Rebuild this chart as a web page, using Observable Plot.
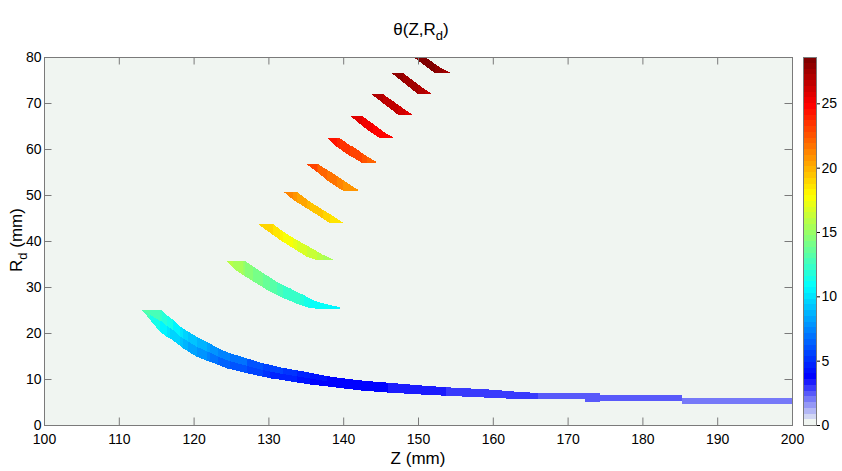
<!DOCTYPE html>
<html><head><meta charset="utf-8">
<script src="https://cdn.jsdelivr.net/npm/d3@7"></script>
<script src="https://cdn.jsdelivr.net/npm/@observablehq/plot@0.6"></script>
<style>
html,body{margin:0;padding:0;background:#fff;}
#wrap{position:relative;width:842px;height:471px;font-family:"Liberation Sans",Arial,sans-serif;color:#000;overflow:hidden;}
#main,#cbar{position:absolute;top:0;}
#main{left:0;}
#cbar{left:803px;}
.lbl{position:absolute;font-size:17px;white-space:nowrap;line-height:1;}
.lbl sub{font-size:13px;vertical-align:-5px;line-height:0;}
#title{left:421px;top:21px;transform:translateX(-50%);}
#xlab{left:418px;top:450px;transform:translateX(-50%);}
#ylab{left:16px;top:240px;transform:translate(-50%,-50%) rotate(-90deg);}
</style></head><body>
<div id="wrap">
<div id="main"></div><div id="cbar"></div>
<div class="lbl" id="title">θ(Z,R<sub>d</sub>)</div>
<div class="lbl" id="xlab">Z (mm)</div>
<div class="lbl" id="ylab">R<sub>d</sub> (mm)</div>
</div>
<script>
// ---- tick labels ----
const xTicks = [100,110,120,130,140,150,160,170,180,190,200];
const yTicks = [0,10,20,30,40,50,60,70,80];
const cTicks = [0,5,10,15,20,25];
const thetaMax = 28.6;

// ---- lower (long) band: samples along Z with Rd low/high edges;
//      theta of each segment (upper half / lower half of the band) ----
const lowZ  = [113.1,114.2,115.5,115.75,116.4,116.85,117.3,118.2,118.6,119.3,120.4,121.75,122.2,123.3,124.4,124.9,127.1,129.3,130.2,132.0,133.8,135.6,137.8,140.0,142.7,146.0,149.6,153.8,159.2,163.2,166.1,172.3,172.3,174.3,174.3,185.3,185.3,200];
const lowLo = [25.0,22.83,20.28,20.0,19.2,18.85,18.3,17.2,16.67,15.95,14.85,14.0,13.76,13.05,12.33,12.13,11.24,10.5,10.15,9.75,9.25,8.8,8.4,7.95,7.45,7.05,6.7,6.35,5.95,5.65,5.6,5.6,5.1,5.1,5.15,5.15,4.55,4.55];
const lowHi = [25.0,25.0,25.0,25.0,23.91,23.4,22.83,21.37,21.0,20.28,19.2,18.11,17.7,16.67,15.9,15.59,14.5,13.41,13.1,12.4,11.9,11.37,10.65,10.15,9.63,9.2,8.7,8.2,7.76,7.24,6.95,6.9,6.9,6.9,6.5,6.5,5.95,5.95];
const lowThetaTop = [13.0,12.6,12.2,12.0,11.5,11.2,10.7,10.2,9.8,9.3,8.7,8.3,8.0,7.5,7.2,6.8,6.2,5.8,5.4,5.0,4.6,4.3,4.0,3.8,3.7,3.5,3.3,3.1,2.9,2.8,2.6,2.5,2.5,2.4,2.4,2.0,2.0];
const lowThetaBot = [12.6,11.6,10.7,10.5,10.1,9.8,9.4,9.0,8.7,8.2,7.7,7.4,7.1,6.7,6.4,6.0,5.5,5.2,4.9,4.6,4.3,4.0,3.8,3.7,3.6,3.4,3.2,3.0,2.9,2.8,2.6,2.5,2.5,2.4,2.4,2.0,2.0];

// ---- short bands (A lowest ... I top): samples along Z, Rd edges, theta per segment ----
const bandA_z  = [124.4,125.3,126.6,126.9,128.0,129.3,130.2,131.1,132.0,132.9,134.2,134.7,135.6,136.5,138.2,139.6];
const bandA_lo = [35.65,34.07,32.61,32.3,31.2,29.9,28.98,28.25,27.54,27.0,26.09,25.85,25.37,25.3,25.25,25.22];
const bandA_hi = [35.65,35.65,35.65,35.65,34.4,33.0,32.1,31.15,30.4,29.72,28.65,28.26,27.5,26.8,26.1,25.6];
const bandA_theta = [15.7,15.3,14.9,14.5,14.1,13.7,13.3,12.9,12.5,12.1,11.7,11.4,11.1,10.9,10.7];

const bandB_z  = [128.65,130.0,130.65,131.55,132.0,133.33,133.8,135.12,135.56,136.46,137.34,138.68];
const bandB_lo = [43.63,42.02,41.27,40.22,39.77,38.41,37.93,36.59,36.35,35.87,35.87,35.87];
const bandB_hi = [43.63,43.63,43.63,42.55,42.02,40.67,40.22,39.05,38.63,37.8,36.96,36.02];
const bandB_theta = [19.2,18.9,18.5,18.1,17.7,17.3,16.9,16.5,16.1,15.7,15.3];

const bandC_z  = [132.0,133.33,133.78,135.12,135.56,136.9,137.34,138.24,139.13,140.0];
const bandC_lo = [50.72,48.91,48.45,47.11,46.66,45.28,44.81,43.85,43.85,43.85];
const bandC_hi = [50.72,50.72,50.72,49.08,48.54,47.18,46.74,45.83,44.93,43.98];
const bandC_theta = [21.1,20.7,20.3,19.9,19.6,19.3,19.0,18.7,18.5];

const bandD_z  = [135.1,136.46,136.67,137.8,138.28,139.13,140.01,141.35,142.02];
const bandD_lo = [56.67,55.07,54.8,53.26,52.7,51.8,50.87,50.87,50.87];
const bandD_hi = [56.67,56.67,56.67,55.55,55.07,54.2,53.26,51.8,51.09];
const bandD_theta = [23.0,22.6,22.2,21.8,21.5,21.2,20.9,20.6];

const bandE_z  = [138.0,139.13,139.57,140.91,141.35,142.47,143.13,144.4];
const bandE_lo = [62.33,60.5,59.98,58.48,58.1,57.02,57.0,57.0];
const bandE_hi = [62.33,62.33,62.33,60.8,60.5,59.2,58.48,57.2];
const bandE_theta = [24.3,24.0,23.6,23.2,22.9,22.6,22.3];

const bandF_z  = [140.9,142.25,142.47,143.58,144.02,144.92,145.59,146.8];
const bandF_lo = [67.24,65.43,65.1,63.76,63.3,62.33,62.33,62.33];
const bandF_hi = [67.24,67.24,67.24,65.95,65.43,64.35,63.54,62.4];
const bandF_theta = [25.9,25.7,25.4,25.2,25.0,24.8,24.6];

const bandG_z  = [143.8,145.36,146.5,147.37,148.3,149.24];
const bandG_lo = [71.89,69.9,68.5,67.39,67.39,67.39];
const bandG_hi = [71.89,71.89,70.6,69.6,68.5,67.5];
const bandG_theta = [27.2,26.8,26.4,26.1,25.8];

const bandH_z  = [146.5,148.03,149.0,150.0,150.9,151.83];
const bandH_lo = [76.46,74.5,73.2,71.89,71.89,71.89];
const bandH_hi = [76.46,76.46,75.3,74.1,73.0,72.0];
const bandH_theta = [28.1,27.7,27.4,27.1,26.8];

const bandI_z  = [149.37,150.94,152.27,153.3,154.28];
const bandI_lo = [80.0,78.1,76.46,76.46,76.46];
const bandI_hi = [80.0,80.0,78.5,77.4,76.6];
const bandI_theta = [28.5,28.2,27.9,27.7];

// ---- build segment table (one small area per segment, coloured by theta) ----
const rows = [];
let segId = 0;
function addSegments(z, lo, hi, th) {
  for (let i = 0; i < th.length; i++) {
    const s = segId++;
    rows.push({seg: s, z: z[i], lo: lo[i], hi: hi[i], theta: th[i]});
    rows.push({seg: s, z: z[i+1], lo: lo[i+1], hi: hi[i+1], theta: th[i]});
  }
}
const shortBands = [
  [bandA_z,bandA_lo,bandA_hi,bandA_theta],[bandB_z,bandB_lo,bandB_hi,bandB_theta],
  [bandC_z,bandC_lo,bandC_hi,bandC_theta],[bandD_z,bandD_lo,bandD_hi,bandD_theta],
  [bandE_z,bandE_lo,bandE_hi,bandE_theta],[bandF_z,bandF_lo,bandF_hi,bandF_theta],
  [bandG_z,bandG_lo,bandG_hi,bandG_theta],[bandH_z,bandH_lo,bandH_hi,bandH_theta],
  [bandI_z,bandI_lo,bandI_hi,bandI_theta]
];
for (const b of shortBands) addSegments(...b);
const lowMid = lowLo.map((v, i) => (v + lowHi[i]) / 2);
addSegments(lowZ, lowLo, lowMid, lowThetaBot);
addSegments(lowZ, lowMid, lowHi, lowThetaTop);

// ---- colormap: jet(64) with the lowest eighth fading from background to blue ----
const bgRGB = [0.941, 0.961, 0.945];
const clamp = v => Math.max(0, Math.min(1, v));
function cmap(t) {
  const k = Math.max(0, Math.min(63, Math.floor(t * 64)));
  const s = k / 63;
  let r, g, b;
  if (s < 0.125) {
    const f = s / 0.125;
    r = bgRGB[0] * (1 - f); g = bgRGB[1] * (1 - f); b = bgRGB[2] * (1 - f) + f;
  } else {
    r = clamp(1.5 - Math.abs(4 * s - 3));
    g = clamp(1.5 - Math.abs(4 * s - 2));
    b = clamp(1.5 - Math.abs(4 * s - 1));
  }
  return `rgb(${Math.round(r*255)},${Math.round(g*255)},${Math.round(b*255)})`;
}
const colorOpts = {type: "linear", domain: [0, thetaMax], interpolate: cmap};
const axisGrey = "#7a7a7a";
const font = {fontFamily: "'Liberation Sans', Arial, sans-serif", fontSize: "14px", color: "#000", background: "transparent"};

const main = Plot.plot({
  width: 842, height: 471,
  marginLeft: 44, marginRight: 50, marginTop: 57, marginBottom: 46,
  style: font,
  x: {domain: [100, 200], ticks: xTicks, tickSize: 0, tickPadding: 9, label: null},
  y: {domain: [0, 80], ticks: yTicks, tickSize: 0, tickPadding: 3, label: null},
  color: colorOpts,
  marks: [
    Plot.frame({fill: cmap(0), stroke: null}),
    Plot.areaY(rows, {x: "z", y1: "lo", y2: "hi", z: "seg", fill: "theta", clip: true, shapeRendering: "crispEdges"}),
    Plot.tickX(xTicks, {x: d => d, insetTop: 360.5, stroke: axisGrey}),
    Plot.tickX(xTicks, {x: d => d, insetBottom: 360.5, stroke: axisGrey}),
    Plot.tickY(yTicks, {y: d => d, insetRight: 740.5, stroke: axisGrey}),
    Plot.tickY(yTicks, {y: d => d, insetLeft: 740.5, stroke: axisGrey}),
    Plot.frame({stroke: axisGrey})
  ]
});
document.getElementById("main").appendChild(main);

const bins = d3.range(64).map(k => ({x1: 0, x2: 1, v1: k * thetaMax / 64, v2: (k + 1) * thetaMax / 64, v: (k + 0.5) * thetaMax / 64}));
const cbar = Plot.plot({
  width: 39, height: 471,
  marginLeft: 0, marginRight: 26, marginTop: 57, marginBottom: 46,
  style: font,
  x: {domain: [0, 1], axis: null},
  y: {domain: [0, thetaMax], axis: "right", ticks: cTicks, tickSize: 3, tickPadding: 2, label: null},
  color: colorOpts,
  marks: [
    Plot.rect(bins, {x1: "x1", x2: "x2", y1: "v1", y2: "v2", fill: "v", shapeRendering: "crispEdges"}),
    Plot.frame({stroke: axisGrey})
  ]
});
document.getElementById("cbar").appendChild(cbar);
</script>
</body></html>
